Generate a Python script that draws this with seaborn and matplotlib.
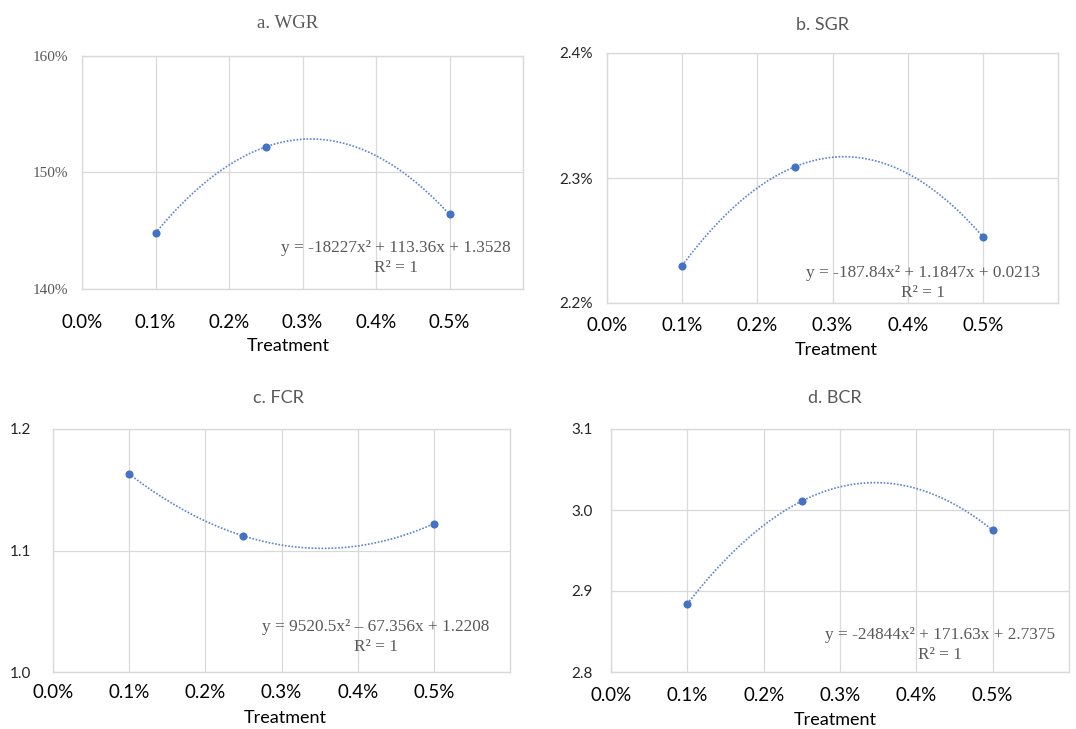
import numpy as np
import matplotlib
matplotlib.use("Agg")
import matplotlib.pyplot as plt
import seaborn as sns
from matplotlib.ticker import FuncFormatter

sns.set_style("white")
plt.rcParams['font.family'] = ['Lato', 'DejaVu Sans']

# data
treatment = [0.1, 0.25, 0.5]          # % in diet
wgr = [144.8, 152.2, 146.4]           # %
sgr = [2.230, 2.309, 2.253]           # %
fcr = [1.163, 1.112, 1.122]
bcr = [2.884, 3.011, 2.975]

titles = ['a. WGR', 'b. SGR', 'c. FCR', 'd. BCR']
equations = ['y = -18227x² + 113.36x + 1.3528',
             'y = -187.84x² + 1.1847x + 0.0213',
             'y = 9520.5x² – 67.356x + 1.2208',
             'y = -24844x² + 171.63x + 2.7375']
x_ticks = [0.0, 0.1, 0.2, 0.3, 0.4, 0.5]
y_ticks = [[140, 150, 160], [2.2, 2.3, 2.4], [1.0, 1.1, 1.2], [2.8, 2.9, 3.0, 3.1]]
y_fmt = ['{:.0f}%', '{:.1f}%', '{:.1f}', '{:.1f}']

W, H = 1076, 729
# panel boxes in pixels: left, right, top, bottom
boxes = [(82, 523, 56, 289), (607, 1058, 53, 303), (53, 510, 429, 672), (611, 1069, 429, 672)]
title_pos = [(288, 23), (823, 25), (278, 398), (835, 398)]
xlab_pos = [(288, 346), (836, 350), (285, 718), (835, 720)]
eq_pos = [(0.712, 0.176, 0.09), (0.70, 0.12, 0.04), (0.707, 0.185, 0.103), (0.718, 0.152, 0.07)]
ytick_pad = [10, 10, 16, 13]
xtick_pad = [18, 10, 9, 11]

blue = '#4472C4'
grey_line = '#d9d9d9'
grey_text = '#595959'
serif = ['Liberation Serif', 'DejaVu Serif']

fig = plt.figure(figsize=(W / 100, H / 100), dpi=100)
series = [wgr, sgr, fcr, bcr]

for i, vals in enumerate(series):
    l, r, t, b = boxes[i]
    ax = fig.add_axes([l / W, 1 - b / H, (r - l) / W, (b - t) / H])
    sns.regplot(x=treatment, y=vals, order=2, ci=None, ax=ax, color=blue,
                scatter_kws=dict(s=34, zorder=3, linewidths=0, alpha=1),
                line_kws=dict(ls=(0, (1, 1)), lw=1.2, color='#5b84cc'))
    ax.set_xlim(0, 0.6)
    ax.set_ylim(y_ticks[i][0], y_ticks[i][-1])
    ax.set_xticks(x_ticks)
    ax.set_xticklabels(['{:.1f}%'.format(v) for v in x_ticks])
    ax.set_yticks(y_ticks[i])
    ax.yaxis.set_major_formatter(FuncFormatter(lambda v, p, f=y_fmt[i]: f.format(v)))
    ax.grid(True, color=grey_line, lw=0.9)
    ax.set_axisbelow(True)
    for s in ax.spines.values():
        s.set_color(grey_line)
        s.set_linewidth(1.0)
    ax.tick_params(axis='x', length=0, pad=xtick_pad[i], labelsize=13.5, labelcolor='black')
    ax.tick_params(axis='y', length=0, pad=ytick_pad[i], labelsize=11)
    if i == 0:
        for lab in ax.get_yticklabels():
            lab.set_family(serif)
            lab.set_color(grey_text)
            lab.set_fontsize(11)
    else:
        for lab in ax.get_yticklabels():
            lab.set_color('#262626')

    ax.set_xlabel('Treatment', fontsize=13, color='black')
    ax.set_ylabel('')
    xl, yl = xlab_pos[i]
    ax.xaxis.set_label_coords((xl - l) / (r - l), (b - yl) / (b - t))
    ax.xaxis.label.set_va('center')

    tx, ty = title_pos[i]
    if i == 0:
        fig.text(tx / W, 1 - ty / H, titles[i], ha='center', va='center',
                 family=serif, fontsize=13.5, color=grey_text)
    else:
        fig.text(tx / W, 1 - ty / H, titles[i], ha='center', va='center',
                 fontsize=13, color=grey_text)

    ex, ey, ry = eq_pos[i]
    ax.text(ex, ey, equations[i], transform=ax.transAxes, ha='center', va='center',
            family=serif, fontsize=12.4, color=grey_text)
    ax.text(ex, ry, 'R² = 1', transform=ax.transAxes, ha='center', va='center',
            family=serif, fontsize=12.4, color=grey_text)

fig.savefig('out.png', dpi=100)
